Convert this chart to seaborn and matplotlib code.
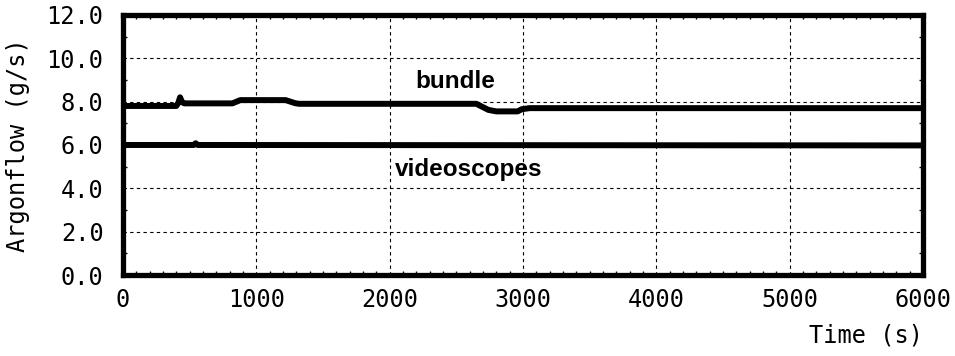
import numpy as np
import pandas as pd
import matplotlib
matplotlib.use("Agg")
import matplotlib.pyplot as plt
from matplotlib.ticker import MultipleLocator
import seaborn as sns

# Argon flow traces (time in s, flow in g/s)
bundle_time = [0, 400, 415, 428, 442, 460, 820, 880, 1220, 1290, 1320,
               2650, 2740, 2800, 2960, 2990, 3050, 6000]
bundle_flow = [7.8, 7.8, 7.95, 8.2, 7.98, 7.92, 7.92, 8.07, 8.07, 7.93, 7.9,
               7.9, 7.62, 7.55, 7.55, 7.65, 7.7, 7.7]

videoscopes_time = [0, 530, 545, 560, 6000]
videoscopes_flow = [6.0, 6.0, 6.08, 6.0, 5.98]

x_ticks = [0, 1000, 2000, 3000, 4000, 5000, 6000]
y_ticks = [0.0, 2.0, 4.0, 6.0, 8.0, 10.0, 12.0]

df = pd.concat([
    pd.DataFrame({"time": bundle_time, "flow": bundle_flow, "series": "bundle"}),
    pd.DataFrame({"time": videoscopes_time, "flow": videoscopes_flow, "series": "videoscopes"}),
])

sns.set_theme(style="white")
plt.rcParams["font.family"] = ["DejaVu Sans Mono"]

fig = plt.figure(figsize=(9.55, 3.56), dpi=100)
ax = fig.add_axes([0.1288, 0.2275, 0.8377, 0.7305])

sns.lineplot(data=df, x="time", y="flow", hue="series", units="series",
             estimator=None, sort=False, palette=["black", "black"],
             linewidth=4.3, legend=False, ax=ax, zorder=3)

ax.set_xlim(0, 6000)
ax.set_ylim(0, 12)
ax.set_xticks(x_ticks)
ax.set_yticks(y_ticks)
ax.set_xticklabels([str(t) for t in x_ticks])
ax.set_yticklabels([f"{v:.1f}" for v in y_ticks])
ax.xaxis.set_minor_locator(MultipleLocator(100))
ax.yaxis.set_minor_locator(MultipleLocator(1.0))

ax.grid(True, which="major", color="black", linestyle=(0, (3, 3)), linewidth=0.8)
ax.tick_params(which="both", direction="in", top=True, right=True,
               bottom=True, left=True, color="black")
ax.tick_params(which="major", length=0, labelsize=17, labelcolor="black")
ax.tick_params(axis="y", which="major", pad=14)
ax.tick_params(axis="x", which="major", pad=9)
ax.tick_params(which="minor", length=3, width=1)

for sp in ax.spines.values():
    sp.set_visible(True)
    sp.set_color("black")
    sp.set_linewidth(3.8)

ax.set_xlabel("")
ax.set_ylabel("Argonflow (g/s)", fontsize=17, color="black", labelpad=12)
fig.text(0.966, 0.025, "Time (s)", ha="right", va="bottom", fontsize=17, color="black")

ax.text(2490, 8.95, "bundle", fontsize=17.5, fontweight="bold",
        family="Liberation Sans", color="black", ha="center", va="center")
ax.text(2590, 4.85, "videoscopes", fontsize=17.5, fontweight="bold",
        family="Liberation Sans", color="black", ha="center", va="center")

fig.savefig("out.png", dpi=100, facecolor="white")
